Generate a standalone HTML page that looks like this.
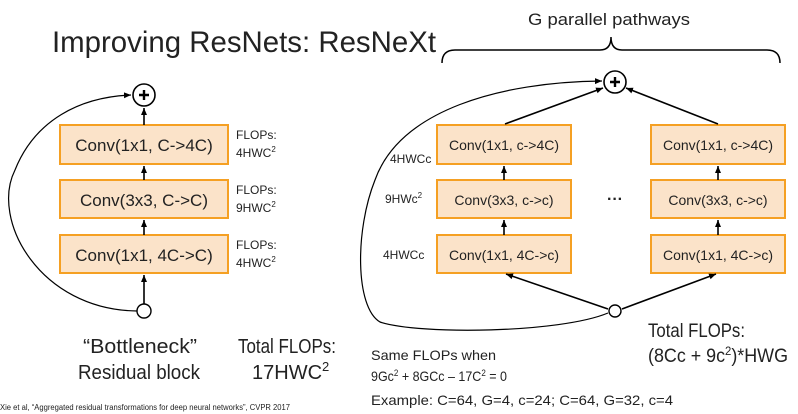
<!DOCTYPE html>
<html><head><meta charset="utf-8"><style>
html,body{margin:0;padding:0;background:#fff;}
svg{display:block;}
text{font-family:"Liberation Sans",sans-serif;fill:#222;}
</style></head><body>
<svg width="798" height="414" viewBox="0 0 798 414" xmlns="http://www.w3.org/2000/svg">
<defs>
<marker id="a" markerWidth="8" markerHeight="8" refX="7" refY="4" orient="auto" markerUnits="userSpaceOnUse">
<path d="M0,1 L7,4 L0,7 z" fill="#000"/></marker>
</defs>
<text x="52" y="52" font-size="30" textLength="384" lengthAdjust="spacingAndGlyphs" fill="#333">Improving ResNets: ResNeXt</text>
<text x="528" y="25" font-size="17" textLength="162" lengthAdjust="spacingAndGlyphs">G parallel pathways</text>
<path d="M442,63 Q442,50 455,50 L600,50 Q611,50 611,37 Q611,50 622,50 L767,50 Q780,50 780,63" fill="none" stroke="#000" stroke-width="1.5"/>

<!-- Left block -->
<g stroke="#f5a023" stroke-width="2" fill="#fbe3c9">
<rect x="60" y="125" width="168" height="39"/>
<rect x="60" y="180" width="168" height="38"/>
<rect x="60" y="235" width="168" height="38"/>
</g>
<g font-size="17" text-anchor="middle">
<text x="144" y="151">Conv(1x1, C-&gt;4C)</text>
<text x="144" y="206">Conv(3x3, C-&gt;C)</text>
<text x="144" y="261">Conv(1x1, 4C-&gt;C)</text>
</g>
<g stroke="#000" stroke-width="1.6" fill="none">
<line x1="144" y1="304" x2="144" y2="275" marker-end="url(#a)"/>
<line x1="144" y1="235" x2="144" y2="220" marker-end="url(#a)"/>
<line x1="144" y1="180" x2="144" y2="166" marker-end="url(#a)"/>
<line x1="144" y1="125" x2="144" y2="108" marker-end="url(#a)"/>
<path d="M137,311 C40,310 -10,220 15,170 C35,120 80,97 131,95" stroke-width="1.2" marker-end="url(#a)"/>
</g>
<circle cx="144" cy="95" r="11" fill="#fff" stroke="#000" stroke-width="1.6"/>
<path d="M139,95 H149 M144,90 V100" stroke="#000" stroke-width="2.4"/>
<circle cx="144" cy="311" r="7" fill="#fff" stroke="#000" stroke-width="1.4"/>
<g font-size="12">
<text x="236" y="139">FLOPs:</text><text x="236" y="157">4HWC<tspan font-size="8" dy="-5">2</tspan></text>
<text x="236" y="194">FLOPs:</text><text x="236" y="212">9HWC<tspan font-size="8" dy="-5">2</tspan></text>
<text x="236" y="249">FLOPs:</text><text x="236" y="267">4HWC<tspan font-size="8" dy="-5">2</tspan></text>
</g>
<g font-size="20">
<text x="83" y="353" textLength="114" lengthAdjust="spacingAndGlyphs">“Bottleneck”</text>
<text x="78" y="379" textLength="122" lengthAdjust="spacingAndGlyphs">Residual block</text>
<text x="238" y="353" textLength="98" lengthAdjust="spacingAndGlyphs">Total FLOPs:</text>
<text x="252" y="379">17HWC<tspan font-size="13" dy="-8">2</tspan></text>
</g>
<text x="0" y="410" font-size="8" fill="#444" textLength="290" lengthAdjust="spacingAndGlyphs">Xie et al, “Aggregated residual transformations for deep neural networks”, CVPR 2017</text>

<!-- Right block -->
<g stroke="#f5a023" stroke-width="2" fill="#fbe3c9">
<rect x="437" y="125" width="134" height="39"/>
<rect x="437" y="180" width="134" height="38"/>
<rect x="437" y="235" width="134" height="38"/>
<rect x="651" y="125" width="134" height="39"/>
<rect x="651" y="180" width="134" height="38"/>
<rect x="651" y="235" width="134" height="38"/>
</g>
<g font-size="14" text-anchor="middle">
<text x="504" y="150">Conv(1x1, c-&gt;4C)</text>
<text x="504" y="205">Conv(3x3, c-&gt;c)</text>
<text x="504" y="260">Conv(1x1, 4C-&gt;c)</text>
<text x="718" y="150">Conv(1x1, c-&gt;4C)</text>
<text x="718" y="205">Conv(3x3, c-&gt;c)</text>
<text x="718" y="260">Conv(1x1, 4C-&gt;c)</text>
</g>
<text x="615" y="204" font-size="16" text-anchor="middle" font-weight="bold">···</text>
<g stroke="#000" stroke-width="1.6" fill="none">
<line x1="504" y1="235" x2="504" y2="220" marker-end="url(#a)"/>
<line x1="504" y1="180" x2="504" y2="166" marker-end="url(#a)"/>
<line x1="718" y1="235" x2="718" y2="220" marker-end="url(#a)"/>
<line x1="718" y1="180" x2="718" y2="166" marker-end="url(#a)"/>
<line x1="608" y1="309" x2="506" y2="274" marker-end="url(#a)"/>
<line x1="622" y1="309" x2="716" y2="274" marker-end="url(#a)"/>
<line x1="505" y1="124" x2="603" y2="88" marker-end="url(#a)"/>
<line x1="718" y1="124" x2="626" y2="88" marker-end="url(#a)"/>
<path d="M608,313 C560,333 420,335 380,322 C355,307 355,230 375,180 C400,110 500,82 602,81" stroke-width="1.2" marker-end="url(#a)"/>
</g>
<circle cx="615" cy="82" r="11" fill="#fff" stroke="#000" stroke-width="1.6"/>
<path d="M610,82 H620 M615,77 V87" stroke="#000" stroke-width="2.4"/>
<circle cx="615" cy="311" r="6" fill="#fff" stroke="#000" stroke-width="1.4"/>
<g font-size="12">
<text x="390" y="163">4HWCc</text>
<text x="385" y="203">9HWc<tspan font-size="8" dy="-5">2</tspan></text>
<text x="383" y="259">4HWCc</text>
</g>
<g font-size="19">
<text x="648" y="337" textLength="97" lengthAdjust="spacingAndGlyphs">Total FLOPs:</text>
<text x="648" y="362" textLength="140" lengthAdjust="spacingAndGlyphs">(8Cc + 9c<tspan font-size="12" dy="-7">2</tspan><tspan dy="7">)*HWG</tspan></text>
</g>
<g font-size="14">
<text x="371" y="360" textLength="125" lengthAdjust="spacingAndGlyphs">Same FLOPs when</text>
<text x="371" y="381" textLength="136" lengthAdjust="spacingAndGlyphs">9Gc<tspan font-size="9" dy="-5">2</tspan><tspan dy="5"> + 8GCc – 17C</tspan><tspan font-size="9" dy="-5">2</tspan><tspan dy="5"> = 0</tspan></text>
<text x="371" y="405" textLength="302" lengthAdjust="spacingAndGlyphs">Example: C=64, G=4, c=24;  C=64, G=32, c=4</text>
</g>
</svg>
</body></html>
